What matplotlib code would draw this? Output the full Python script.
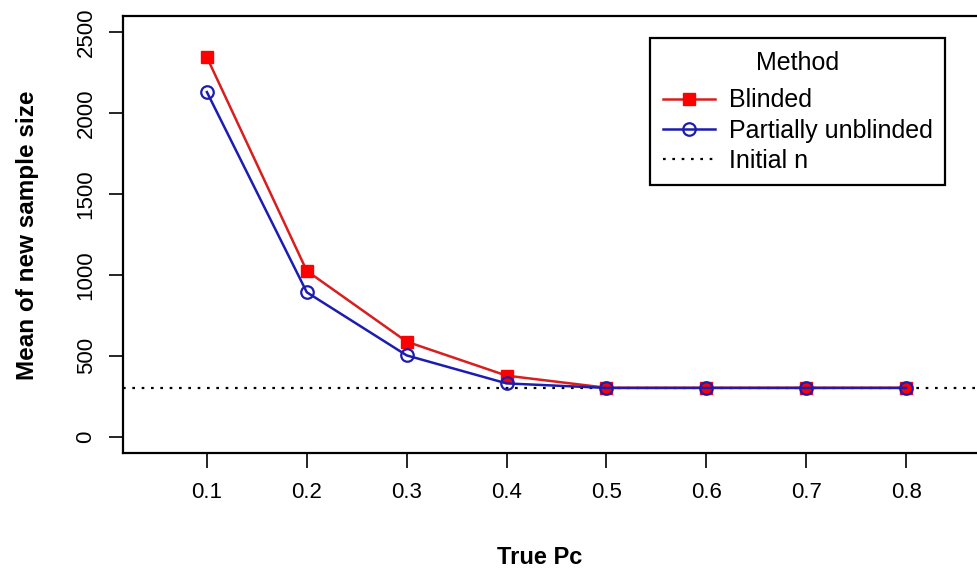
import matplotlib
matplotlib.use("Agg")
import matplotlib.pyplot as plt

# --- data ---
true_pc = [0.1, 0.2, 0.3, 0.4, 0.5, 0.6, 0.7, 0.8]
blinded = [2345, 1025, 588, 378, 303, 303, 303, 303]
partially_unblinded = [2130, 893, 503, 330, 302, 302, 302, 302]
initial_n = 300
x_ticks = [0.1, 0.2, 0.3, 0.4, 0.5, 0.6, 0.7, 0.8]
y_ticks = [0, 500, 1000, 1500, 2000, 2500]

plt.rcParams.update({
    "font.family": ["Liberation Sans", "DejaVu Sans"],
    "font.size": 16,
})

W, H = 977, 573
fig = plt.figure(figsize=(W / 100, H / 100), dpi=100)
# plot box in pixels: left 123, right 1040 (cropped), top 16, bottom 453
ax = fig.add_axes([123 / W, 1 - 453 / H, (1040 - 123) / W, (453 - 16) / H])

ax.axhline(initial_n, color="black", linestyle=(0, (1.2, 3)), linewidth=1.6,
           label="Initial n", zorder=1)
ax.plot(true_pc, blinded, color="#d81e1e", linewidth=1.8, marker="s",
        markersize=9, markerfacecolor="red", markeredgecolor="red",
        label="Blinded", zorder=2)
ax.plot(true_pc, partially_unblinded, color="#1c1cb0", linewidth=1.8, marker="o",
        markersize=9, markerfacecolor="none", markeredgecolor="#1c1cb0",
        markeredgewidth=1.6, label="Partially unblinded", zorder=3)

ax.set_xlim(0.016, 0.934)
ax.set_ylim(-100, 2600)
ax.set_xticks(x_ticks)
ax.set_xticklabels([f"{v:.1f}" for v in x_ticks])
ax.set_yticks(y_ticks)
ax.set_yticklabels([str(v) for v in y_ticks], rotation=90, va="center")
ax.tick_params(axis="x", length=11, width=1.2, pad=10, labelsize=16)
ax.tick_params(axis="y", length=10, width=1.2, pad=9, labelsize=16)
for s in ax.spines.values():
    s.set_linewidth(1.6)

fig.text(540 / W, 1 - 557 / H, "True Pc", ha="center", va="center",
         fontsize=17, fontweight="bold")
fig.text(28 / W, 1 - 235 / H, "Mean of new sample size", ha="center", va="center",
         rotation=90, fontsize=17.5, fontweight="bold")

handles, labels = ax.get_legend_handles_labels()
order = [1, 2, 0]
leg = ax.legend([handles[i] for i in order], [labels[i] for i in order],
                title="Method", loc="upper left",
                bbox_to_anchor=(650 / W, 1 - 38 / H), bbox_transform=fig.transFigure,
                fancybox=False, edgecolor="black", framealpha=1,
                fontsize=18, title_fontsize=18, handlelength=2.1,
                borderpad=0.5, labelspacing=0.25, handletextpad=0.55,
                borderaxespad=0)
leg.get_frame().set_linewidth(1.6)
leg._legend_box.sep = 10

fig.savefig("out.png", dpi=100)
